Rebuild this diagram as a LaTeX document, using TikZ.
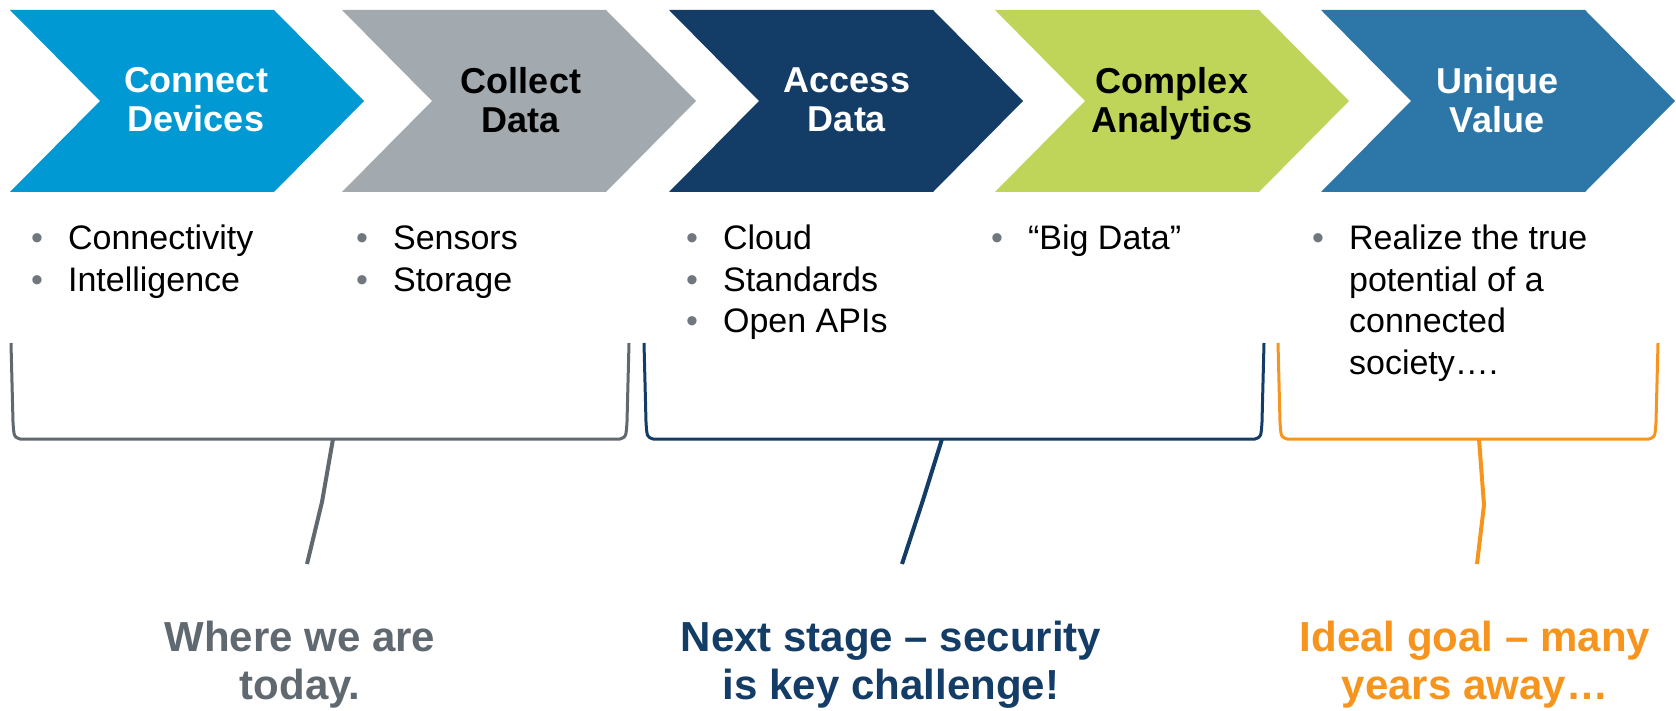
\documentclass[tikz,border=0pt]{standalone}
\usepackage{fontspec}
\setmainfont{Liberation Sans}
\usepackage{tikz}
\usetikzlibrary{positioning}
\usepackage{color}
\definecolor{devblue}{RGB}{0, 153, 211}
\definecolor{collgray}{RGB}{162, 170, 176}
\definecolor{accnavy}{RGB}{19, 60, 102}
\definecolor{cplxlime}{RGB}{191, 213, 90}
\definecolor{uniqblue}{RGB}{44, 119, 168}
\definecolor{todaygray}{RGB}{96, 104, 112}
\definecolor{bulletgray}{RGB}{112, 119, 126}
\definecolor{goalorange}{RGB}{247, 148, 29}
\newcommand{\listdot}{\textcolor{bulletgray}{•}}
\newcommand{\itemlist}[1]{\begin{tabular}[t]{@{}l@{\hspace{25pt}}l@{}}#1\end{tabular}}

\begin{document}
\begin{tikzpicture}[x = 1pt, y = -1pt,
  stage/.style={align = center, inner sep = 0pt, font = \bfseries\fontsize{36}{39}\selectfont},
  bullets/.style={anchor = base west, inner sep = 0pt, font = \fontsize{34}{41.5}\selectfont},
  verdict/.style={align = center, inner sep = 0pt, font = \bfseries\fontsize{42}{48}\selectfont},
  bracket/.style={line width = 3pt, line join = round},
  stem/.style={line width = 4pt}]
  \useasboundingbox (0,0) rectangle (1676,711);

  % chevrons
  \foreach \x/\c in {10/devblue, 342/collgray, 669/accnavy, 995/cplxlime, 1321/uniqblue}
    \fill [\c] (\x,10) -- ++(264,0) -- ++(90,91) -- ++(-90,91) -- ++(-264,0) -- ++(90,-91) -- cycle;

  % stage names
  \node [stage, text = white] (connect) at (196,100) {Connect\\Devices};
  \node [stage, text = black] (collect) at (521,100) {Collect\\Data};
  \node [stage, text = white] (access) at (847,100) {Access\\Data};
  \node [stage, text = black] (complex) at (1172,104) {Complex\\Analytics};
  \node [stage, text = white] (unique) at (1497,100) {Unique\\Value};

  % bullet lists
  \node [bullets] (connectlist) at (31,250) {\itemlist{\listdot & Connectivity\\ \listdot & Intelligence}};
  \node [bullets] (collectlist) at (356,250) {\itemlist{\listdot & Sensors\\ \listdot & Storage}};
  \node [bullets] (accesslist) at (686,250) {\itemlist{\listdot & Cloud\\ \listdot & Standards\\ \listdot & Open APIs}};
  \node [bullets] (complexlist) at (991,250) {\itemlist{\listdot & “Big Data”}};
  \node [bullets] (uniquelist) at (1312,250) {\itemlist{\listdot & Realize the true\\ & potential of a\\ & connected\\ & society….}};

  % brackets
  \foreach \a/\b/\c in {11/629/todaygray, 644/1264/accnavy, 1278/1658/goalorange}
    \draw [bracket, \c] (\a,343) -- ({\a+2},422) .. controls ({\a+3},437) .. ({\a+9},439)
      -- ({\b-9},439) .. controls ({\b-3},437) .. ({\b-2},422) -- (\b,343);

  % verdicts
  \node [verdict, text = todaygray] (today) at (300,665) {Where we are\\today.};
  \node [verdict, text = accnavy] (nextstage) at (891,665) {Next stage – security\\is key challenge!};
  \node [verdict, text = goalorange] (idealgoal) at (1475,665) {Ideal goal – many\\years away…};

  % stems
  \coordinate (todaytop) at (333,439);
  \coordinate (todaybend) at (322,502);
  \coordinate (todayend) at (307,564);
  \coordinate (nexttop) at (942,439);
  \coordinate (nextbend) at (923,500);
  \coordinate (nextend) at (902,564);
  \coordinate (goaltop) at (1479,439);
  \coordinate (goalbend) at (1484,505);
  \coordinate (goalend) at (1477,564);
  \draw [stem, todaygray] (todaytop) -- (todaybend) -- (todayend);
  \draw [stem, accnavy] (nexttop) -- (nextbend) -- (nextend);
  \draw [stem, goalorange] (goaltop) -- (goalbend) -- (goalend);
\end{tikzpicture}
\end{document}
